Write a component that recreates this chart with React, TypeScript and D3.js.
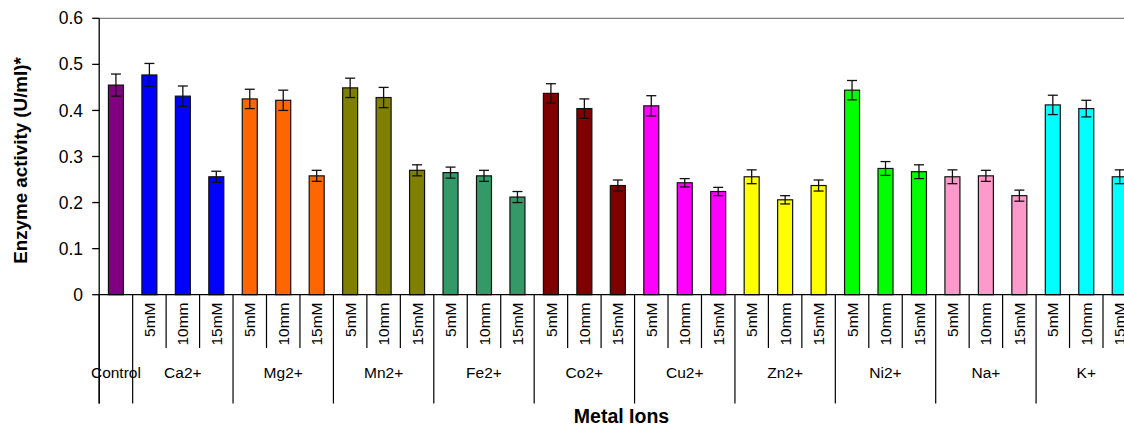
import React from "react";
import * as d3 from "d3";

const ions = ["Ca2+", "Mg2+", "Mn2+", "Fe2+", "Co2+", "Cu2+", "Zn2+", "Ni2+", "Na+", "K+"];
const concentrations = ["5mM", "10mm", "15mM"];
const controlLabel = "Control";
const controlMean = 0.455;
const controlError = 0.024;
const controlColor = "#800080";

// mean values per ion, in order 5mM, 10mm, 15mM
const ionMeans = [
  [0.477, 0.431, 0.256],
  [0.425, 0.422, 0.258],
  [0.449, 0.428, 0.270],
  [0.265, 0.258, 0.212],
  [0.437, 0.404, 0.237],
  [0.410, 0.243, 0.224],
  [0.256, 0.206, 0.237],
  [0.444, 0.274, 0.267],
  [0.256, 0.258, 0.215],
  [0.412, 0.404, 0.256],
];
const ionErrors = [
  [0.025, 0.022, 0.012],
  [0.021, 0.022, 0.012],
  [0.021, 0.022, 0.012],
  [0.012, 0.012, 0.012],
  [0.021, 0.021, 0.012],
  [0.022, 0.009, 0.009],
  [0.015, 0.009, 0.012],
  [0.021, 0.015, 0.015],
  [0.015, 0.012, 0.012],
  [0.021, 0.018, 0.015],
];
const ionColors = ["#0000FF", "#FF6600", "#808000", "#339966", "#800000", "#FF00FF", "#FFFF00", "#00FF00", "#FF99CC", "#00FFFF"];
const yTicks = [0, 0.1, 0.2, 0.3, 0.4, 0.5, 0.6];
const yTitle = "Enzyme activity (U/ml)*";
const xTitle = "Metal Ions";

type Bar = { key: string; group: number; label: string; mean: number; err: number; color: string };

const bars: Bar[] = [
  { key: "control", group: -1, label: "", mean: controlMean, err: controlError, color: controlColor },
  ...ions.flatMap((ion, gi) =>
    concentrations.map((c, ci) => ({
      key: `${ion}-${c}`,
      group: gi,
      label: c,
      mean: ionMeans[gi][ci],
      err: ionErrors[gi][ci],
      color: ionColors[gi],
    }))
  ),
];

export default function App() {
  const W = 1124;
  const H = 425;
  const left = 99.2;
  const step = 33.46;
  const top = 18.3;
  const bottom = 294.7;
  const x = d3
    .scaleBand<number>()
    .domain(d3.range(bars.length))
    .range([left, left + step * bars.length])
    .padding(0);
  const y = d3.scaleLinear().domain([0, 0.6]).range([bottom, top]);
  const bw = 15;
  const font = "'Liberation Sans', Arial, sans-serif";
  const rightEdge = left + step * bars.length;

  // boundary ticks
  const boundaries: { x: number; long: boolean }[] = [];
  for (let i = 0; i <= bars.length; i++) {
    const xx = left + i * step;
    const long = i === 0 || i === 1 || (i - 1) % 3 === 0;
    boundaries.push({ x: xx, long });
  }

  return (
    <svg
      width={W}
      height={H}
      style={{ position: "absolute", left: 0, top: 0, overflow: "hidden", background: "#fff" }}
      fontFamily={font}
    >
      {/* plot top border */}
      <line x1={left} x2={rightEdge} y1={top} y2={top} stroke="#808080" strokeWidth={1.3} />
      {/* bars */}
      {bars.map((b, i) => {
        const cx = (x(i) as number) + x.bandwidth() / 2;
        return (
          <g key={b.key}>
            <rect
              x={cx - bw / 2}
              y={y(b.mean)}
              width={bw}
              height={bottom - y(b.mean)}
              fill={b.color}
              stroke="#111"
              strokeWidth={1.2}
            />
            <line x1={cx} x2={cx} y1={y(b.mean + b.err)} y2={y(b.mean - b.err)} stroke="#111" strokeWidth={1.3} />
            <line x1={cx - 5} x2={cx + 5} y1={y(b.mean + b.err)} y2={y(b.mean + b.err)} stroke="#111" strokeWidth={1.3} />
            <line x1={cx - 5} x2={cx + 5} y1={y(b.mean - b.err)} y2={y(b.mean - b.err)} stroke="#111" strokeWidth={1.3} />
          </g>
        );
      })}
      {/* y axis */}
      <line x1={left} x2={left} y1={top} y2={403.5} stroke="#000" strokeWidth={1.3} />
      {yTicks.map((t) => (
        <g key={t}>
          <line x1={left - 7} x2={left} y1={y(t)} y2={y(t)} stroke="#000" strokeWidth={1.3} />
          <text x={83} y={y(t)} dy="0.35em" textAnchor="end" fontSize={17.5} fill="#000">
            {d3.format("")(t)}
          </text>
        </g>
      ))}
      {/* x axis */}
      <line x1={left} x2={rightEdge} y1={bottom} y2={bottom} stroke="#000" strokeWidth={1.3} />
      {boundaries.map((bd, i) => (
        <line key={i} x1={bd.x} x2={bd.x} y1={bottom} y2={bd.long ? 403.5 : 348} stroke="#000" strokeWidth={1.2} />
      ))}
      {/* concentration labels */}
      {bars.map((b, i) => {
        if (!b.label) return null;
        const cx = (x(i) as number) + x.bandwidth() / 2;
        return (
          <text
            key={b.key + "-lab"}
            transform={`translate(${cx},302.5) rotate(-90)`}
            textAnchor="end"
            dy="0.36em"
            fontSize={15.5}
            fill="#000"
          >
            {b.label}
          </text>
        );
      })}
      {/* group labels */}
      <text x={left + step / 2} y={378} textAnchor="middle" fontSize={15.5} fill="#000">
        {controlLabel}
      </text>
      {ions.map((ion, gi) => {
        const cx = left + step * (1 + gi * 3 + 1.5);
        return (
          <text key={ion} x={cx} y={378} textAnchor="middle" fontSize={15.5} fill="#000">
            {ion}
          </text>
        );
      })}
      {/* axis titles */}
      <text transform="translate(27,160.5) rotate(-90)" textAnchor="middle" fontSize={18.8} fontWeight="bold" fill="#000">
        {yTitle}
      </text>
      <text x={621.5} y={422.5} textAnchor="middle" fontSize={19.5} fontWeight="bold" fill="#000">
        {xTitle}
      </text>
    </svg>
  );
}
